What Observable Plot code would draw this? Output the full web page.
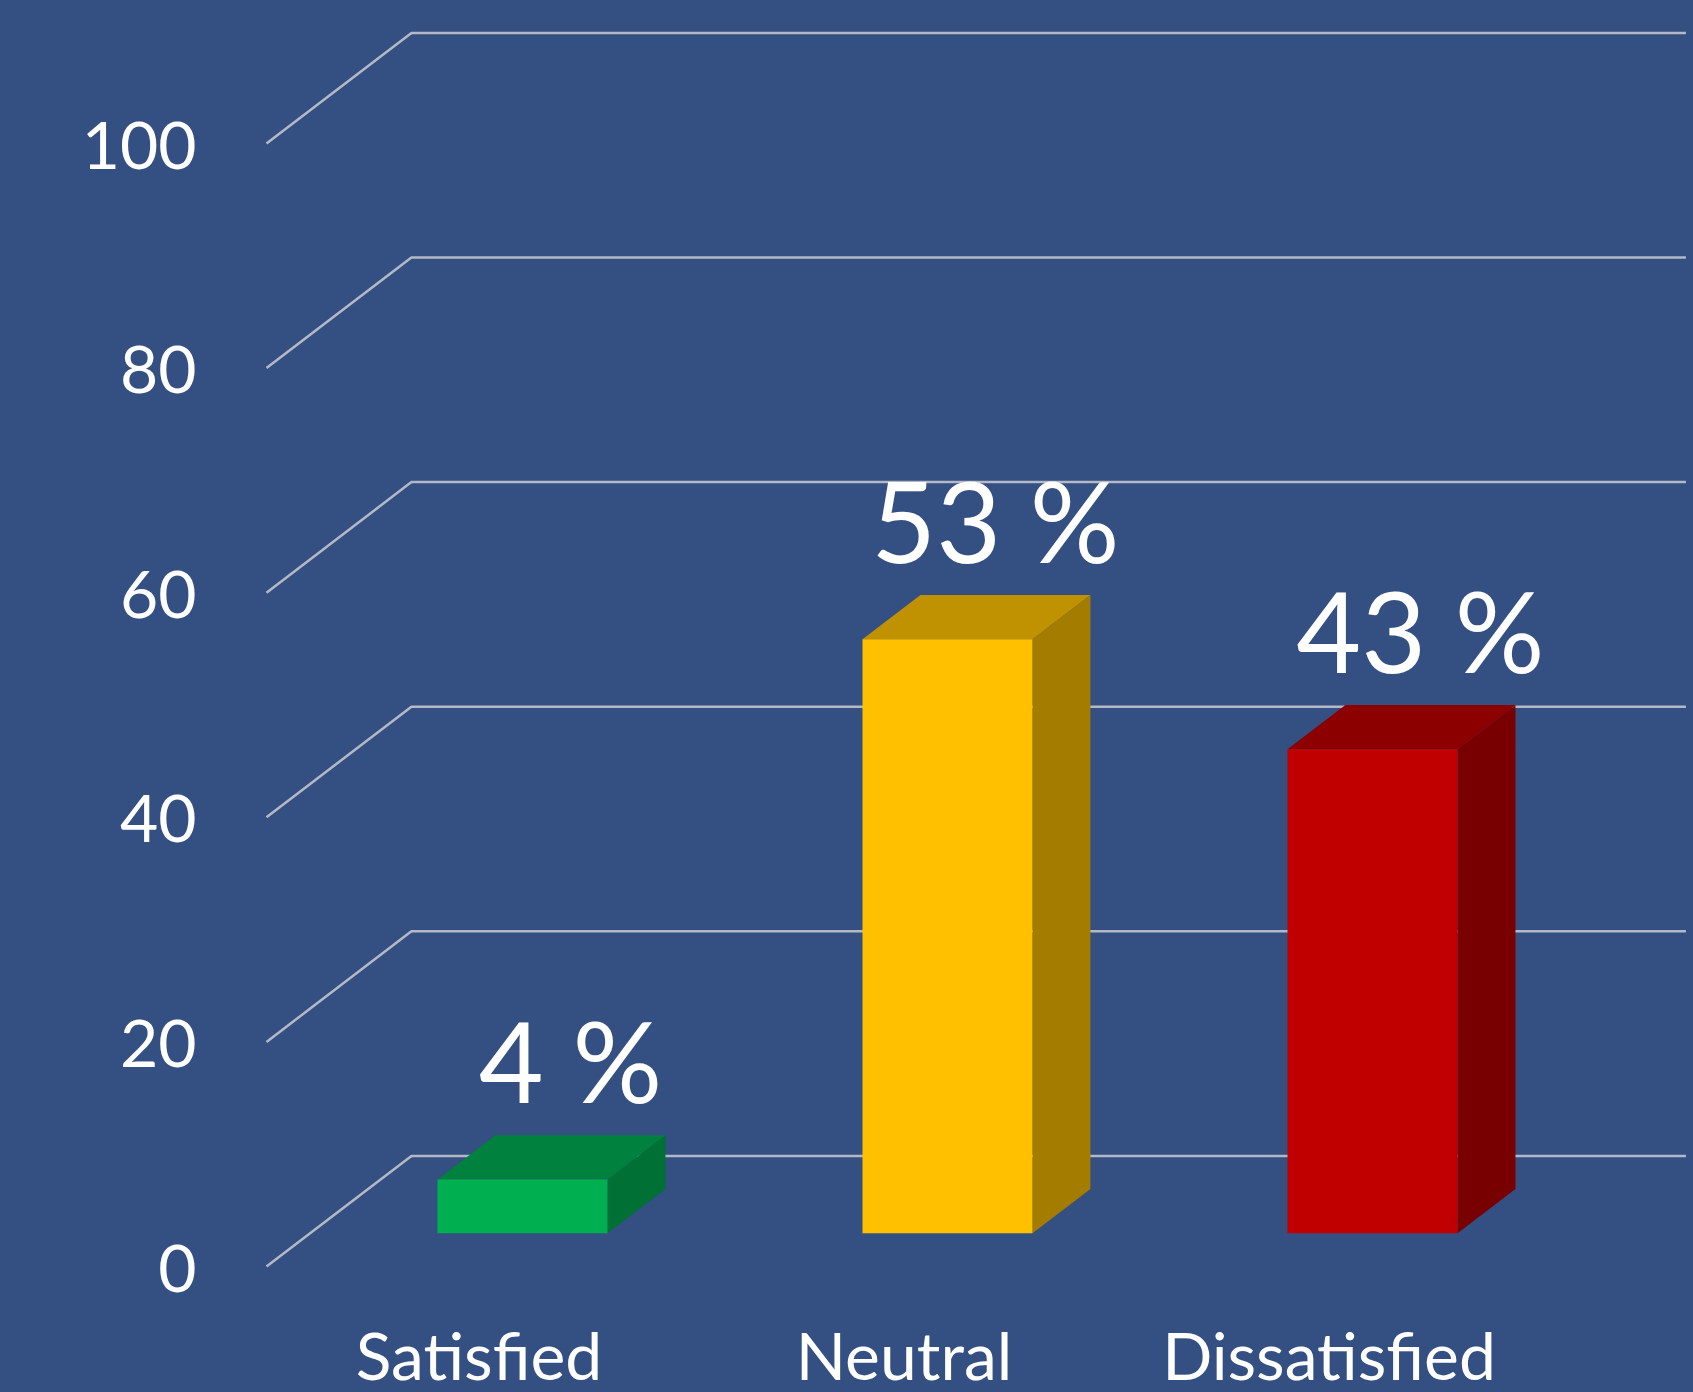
<!DOCTYPE html>
<html><head><meta charset="utf-8">
<script src="https://cdn.jsdelivr.net/npm/d3@7"></script>
<script src="https://cdn.jsdelivr.net/npm/@observablehq/plot@0.6"></script>
<style>
html,body{margin:0;padding:0;background:#344F81;overflow:hidden;}
#chart svg{display:block;}
</style></head><body><div id="chart"></div>
<script>
const categories = ["Satisfied", "Neutral", "Dissatisfied"];
const values = [4.8, 52.9, 43.1];
const valueLabels = ["4 %", "53 %", "43 %"];
const frontColors = ["#00B050", "#FFC000", "#C00000"];
const topColors = ["#00813E", "#C09100", "#8C0000"];
const sideColors = ["#007035", "#A47D00", "#780000"];
const yTicks = [0, 20, 40, 60, 80, 100];

// oblique 3D projection settings (depth expressed in scale units)
const DEPTH_X = 0.341;
const DEPTH_Y = 9.85;
const BAR_D0 = 0.30, BAR_D1 = 0.70, BAR_W = 0.40;
const P = (x, y, d) => ({x: x + d * DEPTH_X, y: y + d * DEPTH_Y});

const bars = categories.map((c, i) => ({c, i, v: values[i], label: valueLabels[i],
  x1: i + 0.5 - BAR_W / 2, x2: i + 0.5 + BAR_W / 2}));

const faceMarks = [];
bars.forEach(b => {
  const side = [P(b.x2, 0, BAR_D0), P(b.x2, 0, BAR_D1), P(b.x2, b.v, BAR_D1), P(b.x2, b.v, BAR_D0)];
  const top = [P(b.x1, b.v, BAR_D0), P(b.x2, b.v, BAR_D0), P(b.x2, b.v, BAR_D1), P(b.x1, b.v, BAR_D1)];
  const front = [P(b.x1, 0, BAR_D0), P(b.x2, 0, BAR_D0), P(b.x2, b.v, BAR_D0), P(b.x1, b.v, BAR_D0)];
  faceMarks.push(Plot.line(side, {x: "x", y: "y", fill: sideColors[b.i], stroke: "none"}));
  faceMarks.push(Plot.line(top, {x: "x", y: "y", fill: topColors[b.i], stroke: "none"}));
  faceMarks.push(Plot.line(front, {x: "x", y: "y", fill: frontColors[b.i], stroke: "none"}));
});

const chart = Plot.plot({
  width: 1693,
  height: 1392,
  marginLeft: 266,
  marginRight: 152,
  marginTop: 143,
  marginBottom: 126,
  x: {type: "linear", domain: [0, categories.length]},
  y: {type: "linear", domain: [0, 100]},
  style: {background: "#344F81", color: "white", fontFamily: "Lato, 'Open Sans', sans-serif", overflow: "visible"},
  marks: [
    // back wall gridlines
    Plot.ruleY(yTicks, {y: d => d + DEPTH_Y, x1: DEPTH_X, x2: categories.length + DEPTH_X, stroke: "#B3B9C6", strokeWidth: 2.5}),
    // side wall diagonals
    Plot.link(yTicks, {x1: 0, y1: d => d, x2: DEPTH_X, y2: d => d + DEPTH_Y, stroke: "#B3B9C6", strokeWidth: 2.5}),
    ...faceMarks,
    Plot.text(bars, {x: b => b.i + 0.5 + BAR_D1 * DEPTH_X, y: b => b.v + BAR_D1 * DEPTH_Y, text: "label",
      dy: -32, dx: -10, lineAnchor: "bottom", fontSize: 112, fill: "white"}),
    Plot.axisY(yTicks, {tickSize: 0, tickPadding: 70, fontSize: 66, color: "white", label: null, dy: 4}),
    Plot.axisX(categories.map((c, i) => i + 0.5), {tickFormat: d => categories[Math.round(d - 0.5)],
      tickSize: 0, tickPadding: 67, fontSize: 66, color: "white", label: null})
  ]
});
document.getElementById("chart").appendChild(chart);
</script>
</body></html>
